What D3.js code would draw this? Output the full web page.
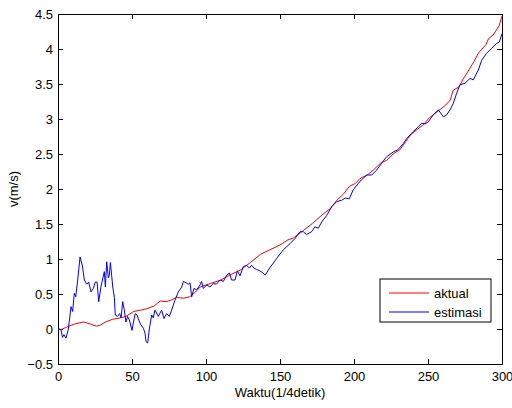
<!DOCTYPE html>
<html>
<head>
<meta charset="utf-8">
<script src="https://cdn.jsdelivr.net/npm/d3@7"></script>
<style>
  body { margin: 0; background: #fff; }
  svg { display: block; font-family: "Liberation Sans", Arial, sans-serif; }
  .axis text { font-size: 13px; fill: #000; }
  .axis path, .axis line { stroke: #000; }
</style>
</head>
<body>
<svg id="chart" width="512" height="408"></svg>
<script>
// time samples (1/4 s) and speed (m/s)
const aktualT = [0, 2, 5, 11, 17, 19, 22, 26, 29, 32, 37, 40, 46, 51, 56, 60, 65, 69, 73, 76, 80, 85, 89, 93, 96,
  103, 110, 116, 123, 130, 137, 143, 150, 155, 159, 166, 172, 179, 184, 188, 193, 197, 201, 204, 209, 213, 218,
  222, 227, 231, 235, 238, 242, 247, 251, 256, 262, 265, 267, 271, 274, 277, 281, 284, 289, 291, 294, 298, 300];
const aktualV = [0, -0.01, 0.02, 0.07, 0.1, 0.09, 0.07, 0.04, 0.06, 0.1, 0.14, 0.15, 0.18, 0.25, 0.27, 0.29, 0.33,
  0.4, 0.39, 0.41, 0.45, 0.44, 0.46, 0.53, 0.6, 0.65, 0.7, 0.77, 0.84, 0.95, 1.07, 1.13, 1.2, 1.27, 1.3, 1.41, 1.51,
  1.64, 1.72, 1.83, 1.93, 2.04, 2.08, 2.15, 2.2, 2.27, 2.37, 2.41, 2.51, 2.56, 2.68, 2.77, 2.84, 2.92, 3.02, 3.1,
  3.2, 3.27, 3.41, 3.46, 3.58, 3.68, 3.82, 3.94, 4.06, 4.15, 4.2, 4.33, 4.47];

const estimasiT = [0, 1, 2, 3, 4, 5.4, 7, 8.8, 9.9, 11, 12, 13.3, 14.9, 16.5, 17.8, 19.4, 20.7, 22.3, 23.9, 25.2,
  26.4, 27.5, 29, 30, 31.3, 32, 32.9, 34, 34.7, 35.4, 37, 38.1, 38.7, 40.2, 41.7, 42.6, 43.7, 44.8, 45.9, 47, 48.2,
  50, 51, 52.2, 53.4, 54.5, 56, 57.7, 58.8, 59.5, 60.6, 61.7, 63.3, 64.4, 65.5, 67.8, 70, 71.6, 73.4, 75.2, 76.8,
  79, 81.3, 83.6, 84.7, 86.5, 88, 89.2, 90.3, 91.9, 93.7, 96, 97, 98.2, 100.4, 102.7, 104.9, 107, 109.5, 111.7,
  114, 115.8, 117.3, 119.6, 121.2, 123, 125.2, 127.5, 129.3, 130.8, 132.4, 134.2, 136.5, 138.5, 140, 143, 147.8,
  152.2, 156.8, 160, 163.5, 165.7, 168, 171.3, 173.6, 175.9, 178.2, 181.5, 185, 188.3, 191.7, 194, 196.8, 199.5,
  202.9, 205, 208.6, 212, 215.3, 218.7, 222, 226.6, 229.6, 233.3, 235.6, 240, 243.6, 245.7, 248, 250.2, 253.6,
  257, 260.4, 262.6, 264.9, 267, 269.4, 271.6, 275, 278.4, 280.6, 284, 286.3, 289.6, 293, 296.4, 298.2, 300];
const estimasiV = [0.01, 0, -0.01, -0.12, -0.08, -0.13, 0, 0.32, 0.25, 0.51, 0.46, 0.7, 1.03, 0.9, 0.7, 0.64, 0.67,
  0.53, 0.58, 0.67, 0.67, 0.39, 0.6, 0.7, 0.82, 0.6, 0.96, 0.73, 0.77, 0.95, 0.6, 0.45, 0.2, 0.18, 0.22, 0.16, 0.39,
  0.27, 0.1, 0.18, 0.13, -0.02, 0.1, 0.22, 0.2, 0.13, 0.06, 0.01, -0.06, -0.18, -0.2, 0, 0.2, 0.16, 0.27, 0.18,
  0.27, 0.15, 0.22, 0.18, 0.27, 0.41, 0.53, 0.6, 0.68, 0.66, 0.64, 0.66, 0.46, 0.58, 0.56, 0.63, 0.68, 0.58, 0.63,
  0.6, 0.65, 0.64, 0.7, 0.68, 0.77, 0.8, 0.7, 0.7, 0.83, 0.76, 0.89, 0.91, 0.87, 0.91, 0.87, 0.85, 0.83, 0.8, 0.77,
  0.87, 1.01, 1.13, 1.22, 1.29, 1.39, 1.39, 1.35, 1.39, 1.46, 1.44, 1.53, 1.62, 1.75, 1.82, 1.84, 1.87, 1.86, 1.99,
  2.08, 2.13, 2.2, 2.2, 2.27, 2.37, 2.46, 2.53, 2.56, 2.65, 2.72, 2.82, 2.89, 2.94, 2.93, 2.96, 3.06, 3.13, 3.03,
  3.06, 3.13, 3.22, 3.37, 3.49, 3.51, 3.58, 3.56, 3.7, 3.84, 3.94, 4.01, 4.08, 4.1, 4.22];

const xTicks = [0, 50, 100, 150, 200, 250, 300];
const yTicks = [-0.5, 0, 0.5, 1, 1.5, 2, 2.5, 3, 3.5, 4, 4.5];
const seriesNames = ["aktual", "estimasi"];
const seriesColors = ["#ff0000", "#0000ff"];

const svg = d3.select("#chart");
const m = { left: 58, right: 502, top: 14, bottom: 364 };

const x = d3.scaleLinear().domain([0, 300]).range([m.left, m.right]);
const y = d3.scaleLinear().domain([-0.5, 4.5]).range([m.bottom, m.top]);

// axes, MATLAB style: ticks pointing in on all four sides
svg.append("g").attr("class", "axis")
  .attr("transform", `translate(0,${m.bottom})`)
  .call(d3.axisBottom(x).tickValues(xTicks).tickSizeInner(-5).tickSizeOuter(0).tickPadding(8));
svg.append("g").attr("class", "axis")
  .attr("transform", `translate(0,${m.top})`)
  .call(d3.axisTop(x).tickValues(xTicks).tickSizeInner(-5).tickSizeOuter(0).tickFormat(""));
svg.append("g").attr("class", "axis")
  .attr("transform", `translate(${m.left},0)`)
  .call(d3.axisLeft(y).tickValues(yTicks).tickSizeInner(-5).tickSizeOuter(0).tickPadding(5).tickFormat(d3.format("")));
svg.append("g").attr("class", "axis")
  .attr("transform", `translate(${m.right},0)`)
  .call(d3.axisRight(y).tickValues(yTicks).tickSizeInner(-5).tickSizeOuter(0).tickFormat(""));

const line = d3.line().x(d => x(d[0])).y(d => y(d[1]));

const series = [
  d3.zip(aktualT, aktualV),
  d3.zip(estimasiT, estimasiV)
];

svg.append("g")
  .selectAll("path")
  .data(series)
  .enter()
  .append("path")
  .attr("d", line)
  .attr("fill", "none")
  .attr("stroke", (d, i) => seriesColors[i])
  .attr("stroke-width", 1);

// axis labels
svg.append("text")
  .attr("x", (m.left + m.right) / 2)
  .attr("y", 397)
  .attr("text-anchor", "middle")
  .attr("font-size", 13)
  .text("Waktu(1/4detik)");

svg.append("text")
  .attr("transform", `translate(18,${(m.top + m.bottom) / 2}) rotate(-90)`)
  .attr("text-anchor", "middle")
  .attr("font-size", 13)
  .text("v(m/s)");

// legend
const legend = svg.append("g").attr("transform", "translate(380,279)");
legend.append("rect")
  .attr("width", 111)
  .attr("height", 43)
  .attr("fill", "#fff")
  .attr("stroke", "#000");

const item = legend.selectAll(".item")
  .data(seriesNames)
  .enter()
  .append("g")
  .attr("transform", (d, i) => `translate(0,${14 + i * 19})`);

item.append("line")
  .attr("x1", 9).attr("x2", 49)
  .attr("stroke", (d, i) => seriesColors[i]);

item.append("text")
  .attr("x", 54)
  .attr("dy", "0.35em")
  .attr("font-size", 13)
  .text(d => d);
</script>
</body>
</html>
